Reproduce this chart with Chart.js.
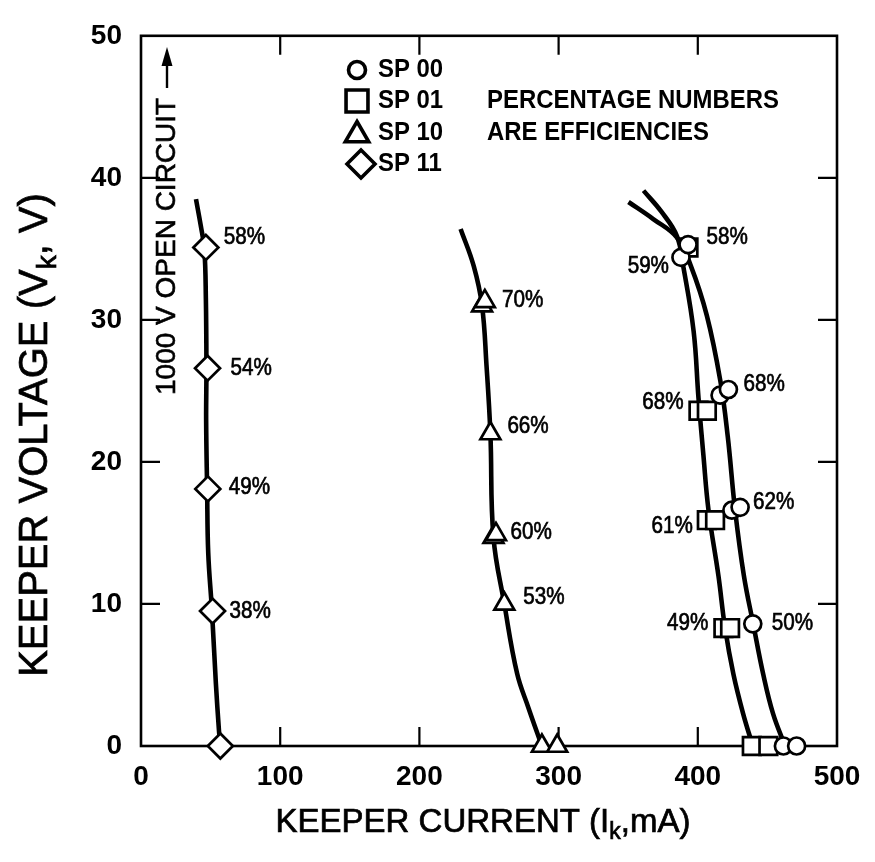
<!DOCTYPE html>
<html>
<head>
<meta charset="utf-8">
<script src="https://cdn.jsdelivr.net/npm/chart.js@4/dist/chart.umd.min.js"></script>
<style>
  html, body { margin: 0; padding: 0; background: #fff; }
  #wrap { width: 875px; height: 862px; }
</style>
</head>
<body>
<div id="wrap"><canvas id="chart" width="875" height="862"></canvas></div>
<script>
// Keeper current (mA) vs keeper voltage (V) for four setpoints.
// Measured points (markers); repeated readings sit side by side.
const sp00Current = [387.9, 393, 416, 422, 424.5, 430.4, 439.5, 461.5, 471];
const sp00Voltage = [34.4, 35.3, 24.7, 25.1, 16.6, 16.8, 8.6, 0, 0];
const sp00Efficiency = ['59%', '', '', '68%', '', '62%', '50%', '', ''];

const sp01Current = [393.3, 400.5, 406.5, 406.5, 412.4, 418.4, 423.2, 438.8, 450.7];
const sp01Voltage = [35.1, 23.6, 23.6, 15.9, 15.9, 8.3, 8.3, 0, 0];
const sp01Efficiency = ['58%', '68%', '', '61%', '', '49%', '', '', ''];

const sp10Current = [245, 247, 251, 253.2, 255, 261, 288, 299];
const sp10Voltage = [31, 31.3, 22, 14.7, 14.9, 10, 0, 0];
const sp10Efficiency = ['70%', '', '66%', '60%', '', '53%', '', ''];

const sp11Current = [57, 51.4, 48, 47.8, 46.6];
const sp11Voltage = [0, 9.5, 18.1, 26.6, 35.1];
const sp11Efficiency = ['', '38%', '49%', '54%', '58%'];

// Faired curves through each setpoint's data
const sp00CurveCurrent = [350.2, 368, 385, 395, 406.5, 416.2, 421.5, 426.8, 433.1, 440, 447, 454, 462.7];
const sp00CurveVoltage = [38.3, 37.1, 35.8, 33.8, 30.3, 25.7, 21.8, 16.6, 12, 8.5, 5.05, 2.3, 0];
const sp01CurveCurrent = [361, 374, 385, 389.5, 397, 400.5, 404, 407.7, 414.8, 419.6, 425.6, 432.5, 439.5];
const sp01CurveVoltage = [39.1, 37.6, 35.9, 33.8, 29.2, 24.5, 20.5, 16.6, 12, 8.3, 5.05, 2.3, 0];
const sp10CurveCurrent = [229.6, 239, 245, 248.2, 251, 253.2, 261, 270.2, 278.3, 288];
const sp10CurveVoltage = [36.4, 33.8, 31, 26.8, 22, 14.7, 10, 5.1, 2.7, 0];
const sp11CurveCurrent = [39.5, 43, 45.5, 46.6, 47, 46.8, 47.5, 48.3, 51, 53.8, 56, 57];
const sp11CurveVoltage = [38.5, 36.6, 35, 31.5, 26.6, 22.9, 18.1, 13.6, 9.5, 4.4, 1.1, 0];

// Axis ticks
const currentTicks = [0, 100, 200, 300, 400, 500];
const voltageTicks = [0, 10, 20, 30, 40, 50];

const seriesNames = ['SP 00', 'SP 01', 'SP 10', 'SP 11'];

// ---- styling / placement ----
const INK = '#000';
const FONT = "'Liberation Sans', Arial, Helvetica, sans-serif";
const markerStyles = {
  sp00: { pointStyle: 'circle', radius: 8.5 },
  sp01: { pointStyle: 'rect', radius: 12.5 },
  sp10: { pointStyle: 'triangle', radius: 11.5 },
  sp11: { pointStyle: 'rectRot', radius: 12.5 }
};
// per-label placement: [side, gap px, vertical shift px]
const labelPlacement = {
  sp00: { 0: ['left', 12, 9], 3: ['right', 15, -5], 5: ['right', 13, -5], 6: ['right', 19, 0] },
  sp01: { 0: ['right', 18, -10], 1: ['left', 15, -8], 3: ['left', 14, 6], 5: ['left', 15, -5] },
  sp10: { 0: ['right', 20, -5], 2: ['right', 17, -7], 3: ['right', 17, -5], 5: ['right', 19, -7] },
  sp11: { 1: ['right', 17, 0], 2: ['right', 21, -2], 3: ['right', 23, 0], 4: ['right', 18, -10] }
};

function pairs(xs, ys) { return xs.map((x, i) => ({ x: x, y: ys[i] })); }

function curveSet(xs, ys) {
  return {
    type: 'line', data: pairs(xs, ys), showLine: true, borderColor: INK,
    borderWidth: 4.6, pointRadius: 0, tension: 0.4, fill: false, order: 2,
    borderCapStyle: 'butt'
  };
}
function markerSet(key, xs, ys) {
  const s = markerStyles[key];
  return {
    type: 'scatter', data: pairs(xs, ys), showLine: false, pointStyle: s.pointStyle,
    pointRadius: s.radius, pointBorderWidth: 2.7, pointBackgroundColor: '#fff',
    pointBorderColor: INK, order: 1, clip: false
  };
}

const datasets = [
  curveSet(sp00CurveCurrent, sp00CurveVoltage),
  curveSet(sp01CurveCurrent, sp01CurveVoltage),
  curveSet(sp10CurveCurrent, sp10CurveVoltage),
  curveSet(sp11CurveCurrent, sp11CurveVoltage),
  markerSet('sp00', sp00Current, sp00Voltage),
  markerSet('sp01', sp01Current, sp01Voltage),
  markerSet('sp10', sp10Current, sp10Voltage),
  markerSet('sp11', sp11Current, sp11Voltage)
];

// fill text (optionally outlined a little to look heavier), squeezed horizontally
function drawText(ctx, text, x, y, font, align, squeeze, heavy) {
  ctx.save();
  ctx.font = font;
  ctx.fillStyle = INK;
  ctx.strokeStyle = INK;
  ctx.textBaseline = 'middle';
  ctx.textAlign = 'left';
  const w = ctx.measureText(text).width * squeeze;
  let left = x;
  if (align === 'right') left = x - w;
  else if (align === 'center') left = x - w / 2;
  ctx.translate(left, y);
  ctx.scale(squeeze, 1);
  ctx.fillText(text, 0, 0);
  if (heavy) { ctx.lineWidth = heavy; ctx.strokeText(text, 0, 0); }
  ctx.restore();
}

// text made of [string, isSubscript] runs, centred at (0,0) of current transform
function drawRuns(ctx, runs, size, squeeze, heavy) {
  ctx.save();
  ctx.fillStyle = INK;
  ctx.strokeStyle = INK;
  ctx.lineWidth = heavy || 0;
  ctx.textBaseline = 'alphabetic';
  ctx.textAlign = 'left';
  const subSize = Math.round(size * 0.7);
  let total = 0;
  runs.forEach(r => {
    ctx.font = (r[1] ? subSize : size) + 'px ' + FONT;
    total += ctx.measureText(r[0]).width;
  });
  ctx.scale(squeeze, 1);
  let x = -total / 2;
  const base = size * 0.36;
  runs.forEach(r => {
    ctx.font = (r[1] ? subSize : size) + 'px ' + FONT;
    const yy = r[1] ? base + size * 0.22 : base;
    ctx.fillText(r[0], x, yy);
    if (heavy) ctx.strokeText(r[0], x, yy);
    x += ctx.measureText(r[0]).width;
  });
  ctx.restore();
}

function markerPath(ctx, style, x, y, r) {
  ctx.beginPath();
  if (style === 'circle') {
    ctx.arc(x, y, r, 0, Math.PI * 2);
  } else if (style === 'rect') {
    const h = r * Math.SQRT1_2;
    ctx.rect(x - h, y - h, 2 * h, 2 * h);
  } else if (style === 'triangle') {
    for (let k = 0; k < 3; k++) {
      const a = k * 2 * Math.PI / 3;
      const px = x + Math.sin(a) * r, py = y - Math.cos(a) * r;
      if (k === 0) ctx.moveTo(px, py); else ctx.lineTo(px, py);
    }
    ctx.closePath();
  } else {
    ctx.moveTo(x - r, y); ctx.lineTo(x, y - r); ctx.lineTo(x + r, y); ctx.lineTo(x, y + r);
    ctx.closePath();
  }
}

const framePlugin = {
  id: 'frame',
  beforeDatasetsDraw(chart) {
    const { ctx, chartArea: a, scales } = chart;
    ctx.save();
    ctx.strokeStyle = INK;
    ctx.lineWidth = 2.6;
    ctx.strokeRect(a.left, a.top, a.right - a.left, a.bottom - a.top);
    ctx.lineWidth = 2.2;
    const len = 19;
    currentTicks.slice(1, -1).forEach(v => {
      const px = scales.x.getPixelForValue(v);
      ctx.beginPath();
      ctx.moveTo(px, a.bottom); ctx.lineTo(px, a.bottom - len);
      ctx.moveTo(px, a.top); ctx.lineTo(px, a.top + len);
      ctx.stroke();
    });
    voltageTicks.slice(1, -1).forEach(v => {
      const py = scales.y.getPixelForValue(v);
      ctx.beginPath();
      ctx.moveTo(a.left, py); ctx.lineTo(a.left + len, py);
      ctx.moveTo(a.right, py); ctx.lineTo(a.right - len, py);
      ctx.stroke();
    });
    ctx.restore();
  },
  afterDatasetsDraw(chart) {
    const { ctx, scales } = chart;
    const sx = scales.x, sy = scales.y;

    // efficiency labels beside their points
    const groups = [
      ['sp00', sp00Current, sp00Voltage, sp00Efficiency],
      ['sp01', sp01Current, sp01Voltage, sp01Efficiency],
      ['sp10', sp10Current, sp10Voltage, sp10Efficiency],
      ['sp11', sp11Current, sp11Voltage, sp11Efficiency]
    ];
    groups.forEach(([key, xs, ys, labels]) => {
      labels.forEach((t, i) => {
        if (!t) return;
        const p = labelPlacement[key][i];
        const px = sx.getPixelForValue(xs[i]);
        const py = sy.getPixelForValue(ys[i]);
        if (p[0] === 'right') drawText(ctx, t, px + p[1], py + p[2], '24px ' + FONT, 'left', 0.86, 0.7);
        else drawText(ctx, t, px - p[1], py + p[2], '24px ' + FONT, 'right', 0.86, 0.7);
      });
    });

    // key
    const keyStyles = ['circle', 'rect', 'triangle', 'rectRot'];
    const keyR = [8.5, 15.5, 13.5, 14];
    const keyX = 357, rowY = [70, 101, 133, 164];
    ctx.save();
    ctx.lineWidth = 3.6;
    ctx.strokeStyle = INK;
    ctx.fillStyle = '#fff';
    keyStyles.forEach((st, i) => {
      markerPath(ctx, st, keyX + (st === 'rectRot' ? 4 : 0), rowY[i] + (st === 'triangle' ? 2 : 0), keyR[i]);
      ctx.fill(); ctx.stroke();
      drawText(ctx, seriesNames[i], 378, rowY[i], 'bold 26px ' + FONT, 'left', 0.92);
    });
    ctx.restore();
    drawText(ctx, 'PERCENTAGE NUMBERS', 487, rowY[1], 'bold 26px ' + FONT, 'left', 0.92);
    drawText(ctx, 'ARE EFFICIENCIES', 487, rowY[2], 'bold 26px ' + FONT, 'left', 0.92);

    // open-circuit note with arrow
    ctx.save();
    ctx.translate(167, 395);
    ctx.rotate(-Math.PI / 2);
    drawText(ctx, '1000 V OPEN CIRCUIT', 0, 0, '28px ' + FONT, 'left', 1, 0.6);
    ctx.restore();
    ctx.save();
    ctx.strokeStyle = INK; ctx.fillStyle = INK; ctx.lineWidth = 2.4;
    ctx.beginPath(); ctx.moveTo(167, 88); ctx.lineTo(167, 58); ctx.stroke();
    ctx.beginPath(); ctx.moveTo(167, 47); ctx.lineTo(161.5, 66); ctx.lineTo(172.5, 66); ctx.closePath(); ctx.fill();
    ctx.restore();

    // axis titles
    ctx.save();
    ctx.translate(483, 820);
    drawRuns(ctx, [['KEEPER CURRENT (I', false], ['k', true], [',mA)', false]], 33, 1, 0.7);
    ctx.restore();
    ctx.save();
    ctx.translate(33, 435);
    ctx.rotate(-Math.PI / 2);
    drawRuns(ctx, [['KEEPER VOLTAGE (V', false], ['k', true], [', V)', false]], 40, 1, 0.7);
    ctx.restore();
  }
};

new Chart(document.getElementById('chart'), {
  type: 'scatter',
  data: { datasets: datasets },
  plugins: [framePlugin],
  options: {
    responsive: false,
    animation: false,
    events: [],
    layout: { padding: { left: 0, right: 38, top: 27, bottom: 0 } },
    plugins: { legend: { display: false }, tooltip: { enabled: false } },
    scales: {
      x: {
        type: 'linear', min: 0, max: 500,
        afterBuildTicks(s) { s.ticks = currentTicks.map(v => ({ value: v })); },
        ticks: { color: INK, font: { family: FONT, size: 28, weight: 'bold' }, padding: 14, autoSkip: false, maxRotation: 0 },
        grid: { display: false, drawTicks: false },
        border: { display: false },
        afterFit(s) { s.height = 862 - 746; }
      },
      y: {
        type: 'linear', min: 0, max: 50,
        afterBuildTicks(s) { s.ticks = voltageTicks.map(v => ({ value: v })); },
        ticks: { color: INK, font: { family: FONT, size: 28, weight: 'bold' }, padding: 19, autoSkip: false },
        grid: { display: false, drawTicks: false },
        border: { display: false },
        afterFit(s) { s.width = 141; }
      }
    }
  }
});
</script>
</body>
</html>
